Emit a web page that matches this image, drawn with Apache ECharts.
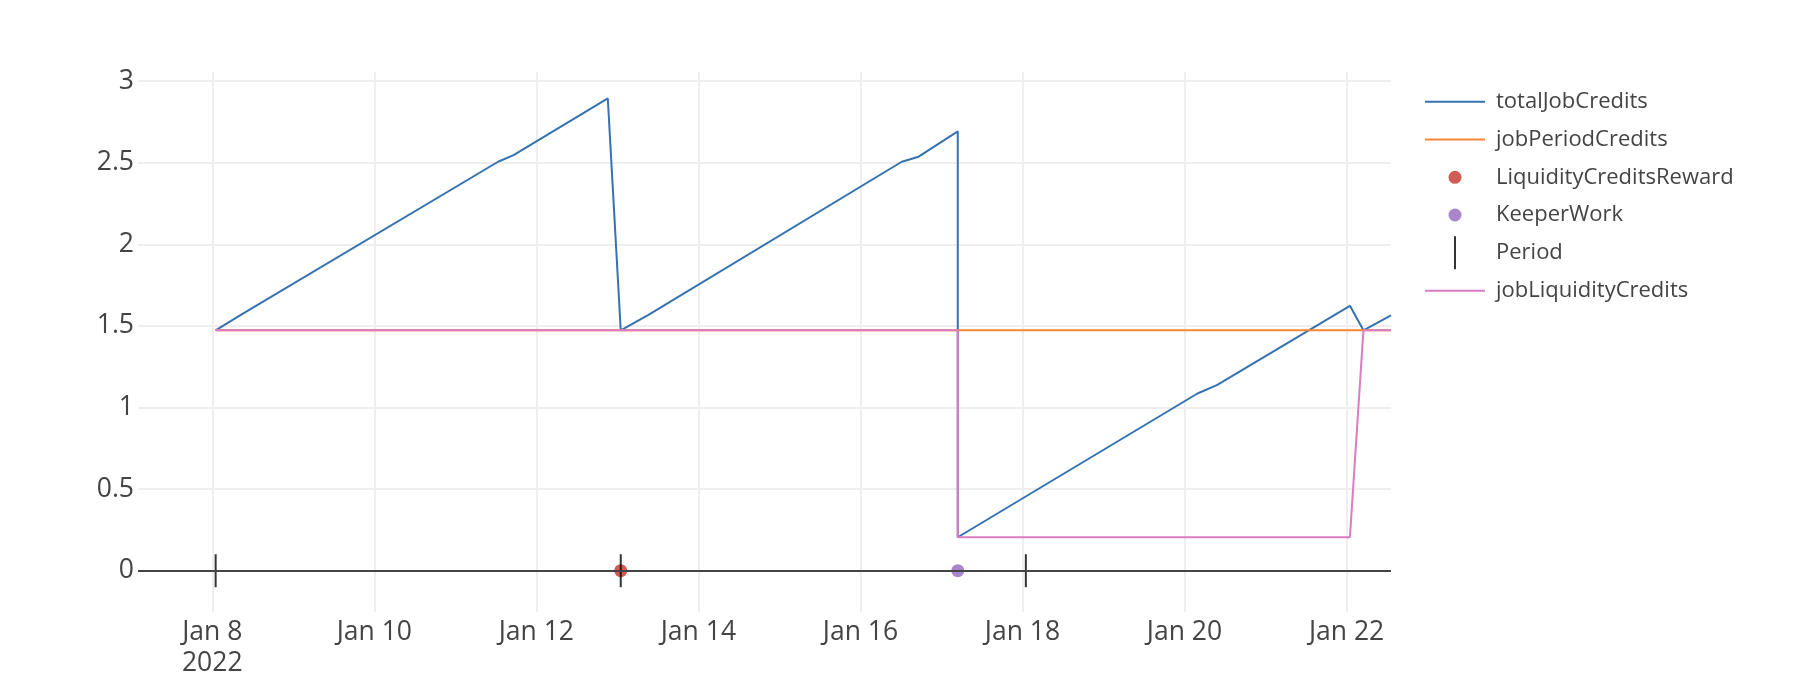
<!DOCTYPE html>
<html>
<head>
<meta charset="utf-8">
<script src="https://cdn.jsdelivr.net/npm/echarts@6/dist/echarts.min.js"></script>
<style>
  html, body { margin: 0; padding: 0; background: #fff; }
  #chart { width: 1796px; height: 692px; }
</style>
</head>
<body>
<div id="chart"></div>
<script>
// data, [time, value]
var totalJobCredits = [
  ['2022-01-08 01:00', 1.473],
  ['2022-01-08 08:20', 1.566],
  ['2022-01-11 12:40', 2.506],
  ['2022-01-11 17:15', 2.547],
  ['2022-01-12 21:10', 2.894],
  ['2022-01-13 01:00', 1.473],
  ['2022-01-13 09:05', 1.566],
  ['2022-01-16 12:15', 2.506],
  ['2022-01-16 17:15', 2.537],
  ['2022-01-17 04:50', 2.692],
  ['2022-01-17 04:50', 0.205],
  ['2022-01-20 03:50', 1.086],
  ['2022-01-20 09:35', 1.137],
  ['2022-01-22 01:00', 1.623],
  ['2022-01-22 05:00', 1.473],
  ['2022-01-22 13:10', 1.564]
];
var jobPeriodCredits = [
  ['2022-01-08 01:00', 1.473],
  ['2022-01-22 13:10', 1.473]
];
var liquidityCreditsReward = [['2022-01-13 01:00', 0]];
var keeperWork = [['2022-01-17 04:50', 0]];
var period = [
  ['2022-01-08 01:00', 0],
  ['2022-01-13 01:00', 0],
  ['2022-01-18 01:00', 0]
];
var jobLiquidityCredits = [
  ['2022-01-08 01:00', 1.473],
  ['2022-01-17 04:50', 1.473],
  ['2022-01-17 04:50', 0.205],
  ['2022-01-22 01:00', 0.205],
  ['2022-01-22 05:00', 1.473],
  ['2022-01-22 13:10', 1.473]
];
var xTickDays = ['2022-01-08 00:00', '2022-01-10 00:00', '2022-01-12 00:00', '2022-01-14 00:00',
                 '2022-01-16 00:00', '2022-01-18 00:00', '2022-01-20 00:00', '2022-01-22 00:00'];
var xRange = ['2022-01-07 02:00', '2022-01-22 13:10'];
var yTicks = [0, 0.5, 1, 1.5, 2, 2.5, 3];

// local time -> ms
function ts(s) {
  var p = s.split(/[- :]/);
  return new Date(+p[0], +p[1] - 1, +p[2], +p[3], +p[4]).getTime();
}
function pts(arr) {
  return arr.map(function (d) { return [ts(d[0]), d[1]]; });
}

var xTicks = xTickDays.map(ts);
var font = '"Open Sans", "Liberation Sans", sans-serif';
var txt = '#444';
var months = ['Jan', 'Feb', 'Mar', 'Apr', 'May', 'Jun', 'Jul', 'Aug', 'Sep', 'Oct', 'Nov', 'Dec'];
var lineIcon = 'path://M0 0H60V2H0Z';

var myChart = echarts.init(document.getElementById('chart'));
var legendText = { fontFamily: font, fontSize: 22, color: txt, lineHeight: 24, padding: [0, 0, 0, 6] };

var option = {
  animation: false,
  grid: { left: 138, right: 405, top: 72, bottom: 80, containLabel: false, outerBoundsMode: 'none' },
  legend: [
    { orient: 'vertical', left: 1425, top: 89.7, padding: 0, itemWidth: 60, itemHeight: 24, itemGap: 13.8,
      selectedMode: false, textStyle: legendText,
      data: [{ name: 'totalJobCredits', icon: lineIcon }, { name: 'jobPeriodCredits', icon: lineIcon }] },
    { orient: 'vertical', left: 1448.5, top: 165.3, padding: 0, itemWidth: 60, itemHeight: 13, itemGap: 13.7,
      selectedMode: false, textStyle: legendText,
      data: [{ name: 'LiquidityCreditsReward', icon: 'circle' }, { name: 'KeeperWork', icon: 'circle' }] },
    { orient: 'vertical', left: 1454, top: 236.2, padding: 0, itemWidth: 60, itemHeight: 33,
      selectedMode: false, textStyle: legendText,
      data: [{ name: 'Period', icon: 'path://M0 0H2V33H0Z' }] },
    { orient: 'vertical', left: 1425, top: 278.7, padding: 0, itemWidth: 60, itemHeight: 24,
      selectedMode: false, textStyle: legendText,
      data: [{ name: 'jobLiquidityCredits', icon: lineIcon }] }
  ],
  xAxis: {
    type: 'value',
    min: ts(xRange[0]),
    max: ts(xRange[1]),
    axisLine: { show: false },
    axisTick: { show: false, customValues: xTicks },
    splitLine: { show: true, lineStyle: { color: '#eeeeee', width: 2 } },
    axisLabel: {
      customValues: xTicks,
      margin: 5,
      fontFamily: font, fontSize: 26.5, color: txt, lineHeight: 31,
      formatter: function (v) {
        var d = new Date(v);
        var s = months[d.getMonth()] + ' ' + d.getDate();
        return v === xTicks[0] ? s + '\n' + d.getFullYear() : s;
      }
    }
  },
  yAxis: {
    type: 'value',
    min: -0.253,
    max: 3.056,
    axisLine: { show: false },
    axisTick: { show: false, customValues: yTicks },
    splitLine: { show: true, lineStyle: { color: '#eeeeee', width: 2 } },
    axisLabel: {
      customValues: yTicks,
      margin: 4,
      fontFamily: font, fontSize: 26.5, color: txt,
      formatter: function (v) { return String(v); }
    }
  },
  series: [
    {
      name: 'totalJobCredits', type: 'line', data: pts(totalJobCredits),
      symbol: 'none', color: '#3572b2', lineStyle: { width: 2 }
    },
    {
      name: 'jobPeriodCredits', type: 'line', data: pts(jobPeriodCredits),
      symbol: 'none', color: '#fa8634', lineStyle: { width: 2 },
      markLine: {
        silent: true, symbol: ['none', 'none'], label: { show: false },
        lineStyle: { color: '#444', width: 2, type: 'solid' },
        data: [{ yAxis: 0 }]
      }
    },
    {
      name: 'LiquidityCreditsReward', type: 'scatter', data: pts(liquidityCreditsReward),
      symbol: 'circle', symbolSize: 13, color: '#c63329'
    },
    {
      name: 'KeeperWork', type: 'scatter', data: pts(keeperWork),
      symbol: 'circle', symbolSize: 13, color: '#9466bb'
    },
    {
      name: 'Period', type: 'scatter', data: pts(period),
      symbol: 'rect', symbolSize: [2, 33], color: '#000'
    },
    {
      name: 'jobLiquidityCredits', type: 'line', data: pts(jobLiquidityCredits),
      symbol: 'none', color: '#d97cc2', lineStyle: { width: 2 }
    }
  ]
};
myChart.setOption(option);
</script>
</body>
</html>
